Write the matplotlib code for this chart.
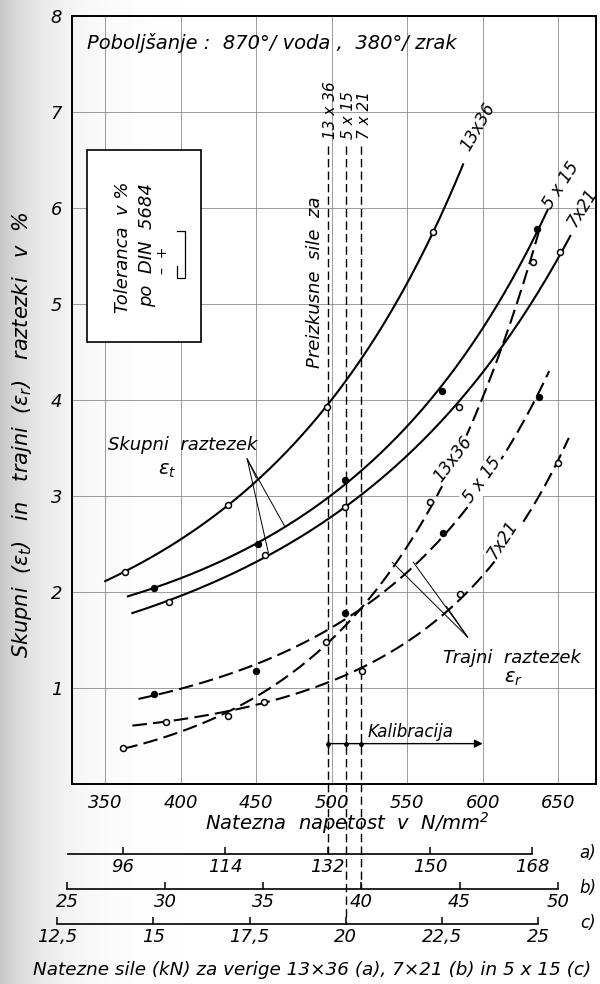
import numpy as np
import matplotlib
matplotlib.use("Agg")
import matplotlib.pyplot as plt
from matplotlib.patches import Rectangle
import matplotlib.transforms as mtransforms

plt.rcParams['font.family'] = 'DejaVu Sans'
plt.rcParams['font.style'] = 'italic'
plt.rcParams['mathtext.fontset'] = 'dejavusans'
plt.rcParams['mathtext.default'] = 'it'

# --- total elongation (solid lines), N/mm2 vs %
s13_t = [363, 431, 497, 567]
e13_t = [2.21, 2.91, 3.93, 5.75]
span13_t = (350, 587)

s5_t = [382, 451, 509, 573, 636]
e5_t = [2.04, 2.50, 3.17, 4.09, 5.78]
span5_t = (365, 643)

s7_t = [392, 456, 509, 584, 651]
e7_t = [1.90, 2.39, 2.89, 3.93, 5.54]
span7_t = (368, 658)

# --- permanent elongation (dashed lines)
s13_r = [362, 431, 496, 565, 633]
e13_r = [0.375, 0.71, 1.48, 2.94, 5.44]
span13_r = (362, 637)

s5_r = [382, 450, 509, 574, 637]
e5_r = [0.94, 1.18, 1.78, 2.61, 4.03]
span5_r = (372, 644)

s7_r = [390, 455, 520, 585, 650]
e7_r = [0.65, 0.85, 1.18, 1.98, 3.34]
span7_r = (368, 657)

# chain wire diameters (mm) and proof forces (kN)
d13, d5, d7 = 13, 5, 7
proof_13, proof_5, proof_7 = 132, 20, 40

# force scales under the stress axis (kN)
ticks_a = [96, 114, 132, 150, 168]
ticks_b = [25, 30, 35, 40, 45, 50]
ticks_c = [12.5, 15, 17.5, 20, 22.5, 25]

XLIM = (328, 675)
YLIM = (0, 8)


def area(d):
    # two legs of a chain link, mm2
    return 2 * np.pi / 4 * d ** 2


def smooth(x, y, span):
    c = np.polyfit(x, np.log(y), 2)
    xs = np.linspace(span[0], span[1], 200)
    return xs, np.exp(np.polyval(c, xs))


fig = plt.figure(figsize=(6, 9.84), dpi=100)

# scanned-paper shading along the left edge
bg = fig.add_axes([0, 0, 1, 1], zorder=-10)
px = np.arange(600)
shade = 1 - 0.22 * np.exp(-px / 45.0)
bg.imshow(np.tile(shade, (10, 1)), cmap='gray', vmin=0, vmax=1,
          aspect='auto', extent=(0, 1, 0, 1))
bg.set_axis_off()

ax_l, ax_b, ax_w, ax_h = 0.12, 0.2033, 0.8733, 0.7805
ax = fig.add_axes([ax_l, ax_b, ax_w, ax_h])
ax.set_facecolor('none')
ax.set_xlim(*XLIM)
ax.set_ylim(*YLIM)
ax.set_xticks(range(350, 651, 50))
ax.set_yticks(range(1, 9))
ax.grid(True, color='0.55', lw=0.6)
ax.tick_params(length=0, labelsize=13, pad=7)
for sp in ax.spines.values():
    sp.set_linewidth(1.4)

solid = dict(color='k', lw=1.5, zorder=4)
dashed = dict(color='k', lw=1.5, ls=(0, (7, 3)), zorder=4)
open_m = dict(ls='none', marker='o', ms=4.3, mfc='white', mec='k', mew=1.1, zorder=6)
fill_m = dict(ls='none', marker='o', ms=4.3, mfc='k', mec='k', zorder=6)

for s, e, span, style, mk in [
        (s13_t, e13_t, span13_t, solid, open_m),
        (s5_t, e5_t, span5_t, solid, fill_m),
        (s7_t, e7_t, span7_t, solid, open_m),
        (s13_r, e13_r, span13_r, dashed, open_m),
        (s5_r, e5_r, span5_r, dashed, fill_m),
        (s7_r, e7_r, span7_r, dashed, open_m)]:
    xs, ys = smooth(s, e, span)
    ax.plot(xs, ys, **style)
    ax.plot(s, e, **mk)

# curve labels
ax.text(597, 6.85, '13x36', rotation=60, ha='center', va='center', fontsize=12)
ax.text(652, 6.24, '5 x 15', rotation=57, ha='center', va='center', fontsize=12)
ax.text(666, 6.0, '7x21', rotation=58, ha='center', va='center', fontsize=12)
wbox = dict(fc='white', ec='none', pad=1)
ax.text(580, 3.38, '13x36', rotation=53, ha='center', va='center', fontsize=12, bbox=wbox, zorder=7)
ax.text(600, 3.17, '5 x 15', rotation=54, ha='center', va='center', fontsize=12, bbox=wbox, zorder=7)
ax.text(613, 2.54, '7x21', rotation=57, ha='center', va='center', fontsize=12, bbox=wbox, zorder=7)

# proof stresses of the three chains
p13 = proof_13 * 1000 / area(d13)
p5 = proof_5 * 1000 / area(d5)
p7 = proof_7 * 1000 / area(d7)

y_a, y_b, y_c = 0.1321, 0.0965, 0.0610
y_top = 6.65
top_fig = ax_b + y_top / YLIM[1] * ax_h
bt = mtransforms.blended_transform_factory(ax.transData, fig.transFigure)
for p, ybot in [(p13, y_a), (p5, y_c), (p7, y_b)]:
    ax.plot([p, p], [top_fig, ybot], color='k', lw=1.0, ls=(0, (6, 3)),
            transform=bt, clip_on=False, zorder=3)

for p, lab in [(p13, '13 x 36'), (p5, '5 x 15'), (p7, '7 x 21')]:
    ax.text(p + 2, 6.72, lab, rotation=90, rotation_mode='anchor',
            ha='left', va='center', fontsize=11)
ax.text(489, 5.23, 'Preizkusne  sile  za', rotation=90, ha='center', va='center', fontsize=13)

# calibration range
y_cal = 0.42
ax.annotate('', xy=(600, y_cal), xytext=(p13, y_cal),
            arrowprops=dict(arrowstyle='-|>', lw=1.0, color='k', mutation_scale=12,
                            shrinkA=0, shrinkB=0), zorder=5)
ax.plot([p13, p5, p7], [y_cal] * 3, ls='none', marker='o', ms=2.5, color='k', zorder=5)
ax.plot([p13], [y_cal], ls='none', marker='|', ms=6, mew=1.0, color='k', zorder=5)
ax.text(524, 0.54, 'Kalibracija', ha='left', va='center', fontsize=12)

# annotations
ax.text(352, 3.53, 'Skupni  raztezek', ha='left', va='center', fontsize=13)
ax.text(391, 3.27, r'$\varepsilon_t$', ha='center', va='center', fontsize=14)
apex = (444, 3.385)
for tx, ty in [(450, 3.19), (469, 2.68), (458, 2.41)]:
    ax.plot([apex[0], tx], [apex[1], ty], color='k', lw=0.7, zorder=3)

ax.text(574, 1.31, 'Trajni  raztezek', ha='left', va='center', fontsize=13)
ax.text(620, 1.10, r'$\varepsilon_r$', ha='center', va='center', fontsize=14)
apex = (590, 1.53)
for tx, ty in [(540, 2.31), (554, 2.31), (576, 1.85)]:
    ax.plot([apex[0], tx], [apex[1], ty], color='k', lw=0.7, zorder=3)

ax.text(338, 7.72, 'Poboljšanje :  870°/ voda ,  380°/ zrak', ha='left', va='center', fontsize=14)

# tolerance box
ax.add_patch(Rectangle((338, 4.6), 75.6, 2.0, fc='white', ec='k', lw=1.2, zorder=5))
ax.text(362, 5.59, 'Toleranca  v %', rotation=90, ha='center', va='center', fontsize=13, zorder=6)
ax.text(378, 5.61, 'po  DIN  5684', rotation=90, ha='center', va='center', fontsize=13, zorder=6)
ax.text(388.5, 5.45, '–  +', rotation=90, ha='center', va='center', fontsize=10, zorder=6)
ax.plot([397.7, 403, 403, 397.7, 397.7], [5.76, 5.76, 5.27, 5.27, 5.40],
        color='k', lw=0.9, zorder=6)

# force scales, drawn on axes that extend a bit left of the main one
ext = 25
px_per = ax_w / (XLIM[1] - XLIM[0])
for yf, d, ticks, lo, hi in [(y_a, d13, ticks_a, 86.4, 168),
                             (y_b, d7, ticks_b, 25, 50),
                             (y_c, d5, ticks_c, 12.5, 25)]:
    k = area(d) / 1000
    sa = fig.add_axes([ax_l - ext * px_per, yf, ax_w + ext * px_per, 0.0005])
    sa.patch.set_alpha(0)
    sa.set_xlim((XLIM[0] - ext) * k, XLIM[1] * k)
    sa.set_yticks([])
    for side in ('top', 'left', 'right'):
        sa.spines[side].set_visible(False)
    sa.spines['bottom'].set_bounds(lo, hi)
    sa.spines['bottom'].set_linewidth(1.2)
    sa.set_xticks(ticks)
    sa.set_xticklabels([f'{t:g}'.replace('.', ',') for t in ticks])
    sa.tick_params(direction='in', length=5, width=1.1, labelsize=13, pad=3)

fig.text(588 / 600, y_a + 0.001, 'a)', ha='center', va='center', fontsize=12)
fig.text(588 / 600, y_b + 0.001, 'b)', ha='center', va='center', fontsize=12)
fig.text(588 / 600, y_c + 0.001, 'c)', ha='center', va='center', fontsize=12)

fig.text(22 / 600, 1 - 435 / 984,
         r'Skupni  ($\varepsilon_t$)   in   trajni  ($\varepsilon_r$)   raztezki   v  %',
         rotation=90, ha='center', va='center', fontsize=15)
fig.text(347 / 600, 1 - 823 / 984, 'Natezna  napetost  v  N/mm$^2$',
         ha='center', va='center', fontsize=14)
fig.text(312 / 600, 1 - 970 / 984,
         'Natezne sile (kN) za verige 13×36 (a), 7×21 (b) in 5 x 15 (c)',
         ha='center', va='center', fontsize=13.2)

fig.savefig('out.png', dpi=100)
